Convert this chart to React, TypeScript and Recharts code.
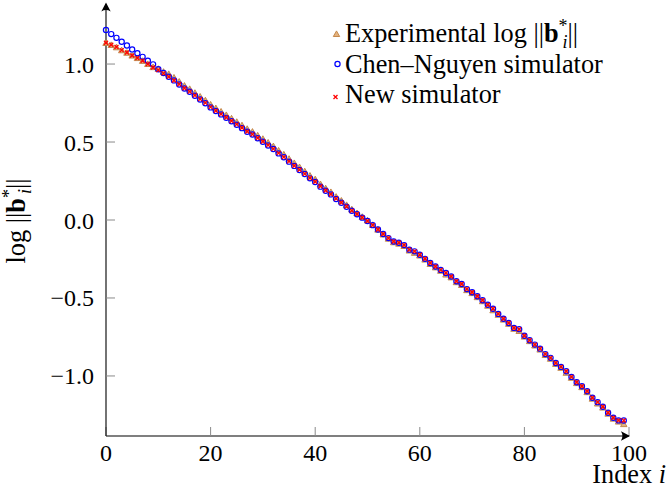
import React from 'react'
import { ScatterChart, Scatter, XAxis, YAxis } from 'recharts'

// index i of each basis vector
const indices = [
  0, 1, 2, 3, 4, 5, 6, 7, 8, 9, 10, 11, 12, 13, 14, 15, 16, 17, 18, 19,
  20, 21, 22, 23, 24, 25, 26, 27, 28, 29, 30, 31, 32, 33, 34, 35, 36, 37, 38, 39,
  40, 41, 42, 43, 44, 45, 46, 47, 48, 49, 50, 51, 52, 53, 54, 55, 56, 57, 58, 59,
  60, 61, 62, 63, 64, 65, 66, 67, 68, 69, 70, 71, 72, 73, 74, 75, 76, 77, 78, 79,
  80, 81, 82, 83, 84, 85, 86, 87, 88, 89, 90, 91, 92, 93, 94, 95, 96, 97, 98, 99,
]

const experimental = [
  1.132, 1.119, 1.104, 1.085, 1.069, 1.051, 1.035, 1.017, 0.997, 0.977,
  0.966, 0.947, 0.933, 0.910, 0.884, 0.858, 0.837, 0.812, 0.788, 0.764,
  0.737, 0.714, 0.692, 0.670, 0.648, 0.626, 0.604, 0.581, 0.563, 0.539,
  0.517, 0.493, 0.470, 0.442, 0.417, 0.389, 0.362, 0.336, 0.309, 0.281,
  0.258, 0.227, 0.200, 0.176, 0.146, 0.121, 0.093, 0.065, 0.041, 0.017,
  -0.006, -0.035, -0.065, -0.096, -0.123, -0.146, -0.155, -0.170, -0.199, -0.214,
  -0.231, -0.257, -0.285, -0.307, -0.329, -0.353, -0.371, -0.402, -0.420, -0.453,
  -0.472, -0.498, -0.524, -0.553, -0.582, -0.611, -0.642, -0.669, -0.701, -0.715,
  -0.751, -0.780, -0.808, -0.834, -0.869, -0.893, -0.926, -0.951, -0.983, -1.015,
  -1.049, -1.075, -1.107, -1.149, -1.180, -1.206, -1.245, -1.277, -1.296, -1.312,
]

const chenNguyen = [
  1.218, 1.192, 1.168, 1.143, 1.119, 1.094, 1.069, 1.046, 1.021, 0.998,
  0.967, 0.943, 0.919, 0.895, 0.869, 0.843, 0.822, 0.797, 0.773, 0.749,
  0.722, 0.699, 0.677, 0.655, 0.633, 0.611, 0.589, 0.566, 0.548, 0.524,
  0.502, 0.478, 0.455, 0.427, 0.402, 0.374, 0.347, 0.321, 0.295, 0.267,
  0.244, 0.214, 0.188, 0.164, 0.135, 0.111, 0.085, 0.059, 0.037, 0.015,
  -0.006, -0.033, -0.061, -0.090, -0.116, -0.138, -0.146, -0.161, -0.190, -0.201,
  -0.223, -0.249, -0.276, -0.298, -0.320, -0.340, -0.362, -0.393, -0.410, -0.443,
  -0.463, -0.489, -0.515, -0.543, -0.569, -0.602, -0.633, -0.660, -0.692, -0.700,
  -0.742, -0.771, -0.799, -0.825, -0.860, -0.884, -0.917, -0.942, -0.970, -1.006,
  -1.040, -1.066, -1.098, -1.140, -1.168, -1.197, -1.236, -1.268, -1.285, -1.286,
]

const newSimulator = [
  1.137, 1.124, 1.109, 1.089, 1.074, 1.055, 1.039, 1.021, 1.000, 0.978,
  0.961, 0.940, 0.918, 0.894, 0.870, 0.845, 0.823, 0.799, 0.775, 0.751,
  0.724, 0.701, 0.679, 0.657, 0.635, 0.613, 0.591, 0.568, 0.549, 0.526,
  0.503, 0.480, 0.456, 0.429, 0.403, 0.376, 0.348, 0.322, 0.296, 0.269,
  0.245, 0.216, 0.189, 0.165, 0.137, 0.112, 0.087, 0.060, 0.038, 0.016,
  -0.006, -0.033, -0.061, -0.090, -0.116, -0.138, -0.146, -0.161, -0.190, -0.201,
  -0.223, -0.249, -0.276, -0.298, -0.320, -0.340, -0.362, -0.393, -0.410, -0.443,
  -0.463, -0.489, -0.515, -0.543, -0.569, -0.602, -0.633, -0.660, -0.692, -0.700,
  -0.742, -0.771, -0.799, -0.825, -0.860, -0.884, -0.917, -0.942, -0.970, -1.006,
  -1.040, -1.066, -1.098, -1.140, -1.168, -1.197, -1.236, -1.268, -1.285, -1.286,
]

const xTicks = [0, 20, 40, 60, 80, 100]
const yTicks = [-1, -0.5, 0, 0.5, 1]

const SERIF = '"Liberation Serif", "Times New Roman", serif'
const BROWN = '#bf8040'
const BLUE = '#0000ff'
const RED = '#ff0000'
const TEXT_SIZE = 26.3

const toPoints = (values: number[]) => values.map((y, k) => ({ x: indices[k], y }))

const formatY = (v: number) => (v < 0 ? '\u2212' + Math.abs(v).toFixed(1) : v.toFixed(1))

const Triangle = ({ cx, cy }: any) => (
  <path
    d={`M${cx},${cy - 3.6}L${cx + 3.2},${cy + 2}L${cx - 3.2},${cy + 2}Z`}
    fill="#e3b27f"
    stroke={BROWN}
    strokeWidth={0.9}
  />
)

const Ring = ({ cx, cy }: any) => (
  <circle cx={cx} cy={cy} r={2.6} fill="none" stroke={BLUE} strokeWidth={1.2} />
)

const Cross = ({ cx, cy }: any) => (
  <path
    d={`M${cx - 2},${cy - 2}L${cx + 2},${cy + 2}M${cx - 2},${cy + 2}L${cx + 2},${cy - 2}`}
    stroke={RED}
    strokeWidth={1.3}
  />
)

// log ||b*_i|| written with tspans
const LogNorm = () => (
  <>
    <tspan>log ||</tspan>
    <tspan fontWeight="bold">b</tspan>
    <tspan fontSize={18} dy={-10}>*</tspan>
    <tspan fontSize={18} fontStyle="italic" dx={-5} dy={16}>i</tspan>
    <tspan dy={-6}>||</tspan>
  </>
)

const YTitle = ({ viewBox }: any) => {
  const x = (viewBox?.x ?? 0) + 24.5
  const y = (viewBox?.y ?? 4) + (viewBox?.height ?? 432) / 2 + 1
  return (
    <text x={x} y={y} transform={`rotate(-90 ${x} ${y})`} textAnchor="middle" fontFamily={SERIF} fontSize={TEXT_SIZE} fill="#000">
      <LogNorm />
    </text>
  )
}

const XTitle = ({ viewBox }: any) => {
  const x = (viewBox?.x ?? 106) + (viewBox?.width ?? 523) + 37
  const y = (viewBox?.y ?? 436) + 46.5
  return (
    <text x={x} y={y} textAnchor="end" fontFamily={SERIF} fontSize={TEXT_SIZE} fill="#000">
      Index <tspan fontStyle="italic">i</tspan>
    </text>
  )
}

const App: React.FC = () => {
  return (
    <div style={{ position: 'absolute', left: 0, top: 0, width: 671, height: 488, background: '#fff' }}>
      <ScatterChart width={671} height={488} margin={{ top: 4, right: 42, bottom: 0, left: 0 }}>
        <XAxis
          type="number"
          dataKey="x"
          domain={[0, 100]}
          ticks={xTicks}
          interval={0}
          height={52}
          axisLine={{ stroke: '#000', strokeWidth: 1.1 }}
          tickLine={{ stroke: '#8a8a8a' }}
          tickSize={-9}
          tickMargin={17}
          tick={{ fill: '#000', fontSize: 24, fontFamily: SERIF }}
          label={<XTitle />}
        />
        <YAxis
          type="number"
          dataKey="y"
          domain={[-1.385, 1.385]}
          ticks={yTicks}
          interval={0}
          width={106}
          axisLine={{ stroke: '#000', strokeWidth: 1.1 }}
          tickLine={{ stroke: '#8a8a8a' }}
          tickSize={-9}
          tickMargin={21}
          tickFormatter={formatY}
          tick={{ fill: '#000', fontSize: 24, fontFamily: SERIF }}
          label={<YTitle />}
        />
        <Scatter data={toPoints(experimental)} shape={Triangle} isAnimationActive={false} />
        <Scatter data={toPoints(chenNguyen)} shape={Ring} isAnimationActive={false} />
        <Scatter data={toPoints(newSimulator)} shape={Cross} isAnimationActive={false} />
      </ScatterChart>
      <svg width={671} height={488} style={{ position: 'absolute', left: 0, top: 0, pointerEvents: 'none' }}>
        {/* axis arrow heads */}
        <path d="M630,436 L621,431.3 Q623.8,436 621,440.7 Z" fill="#000" />
        <path d="M106,2.5 L101.3,11.5 Q106,8.7 110.7,11.5 Z" fill="#000" />
        {/* legend */}
        <g fontFamily={SERIF} fontSize={TEXT_SIZE} fill="#000">
          <Triangle cx={336.5} cy={34.5} />
          <text x={345} y={41.7}>
            Experimental <LogNorm />
          </text>
          <Ring cx={337.5} cy={64} />
          <text x={345} y={73.3}>Chen–Nguyen simulator</text>
          <Cross cx={335.5} cy={97} />
          <text x={345} y={103.3}>New simulator</text>
        </g>
      </svg>
    </div>
  )
}

export default App
